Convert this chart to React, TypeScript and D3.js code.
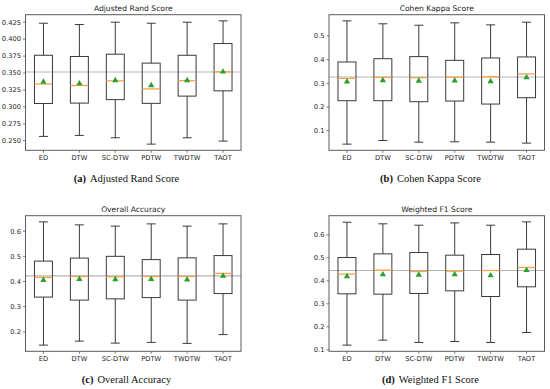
import React from 'react';
import * as d3 from 'd3';

const categories = ['ED', 'DTW', 'SC-DTW', 'PDTW', 'TWDTW', 'TAOT'];

// (a) Adjusted Rand Score
const arsLow = [0.2564, 0.2579, 0.2544, 0.245, 0.2544, 0.2495];
const arsQ1 = [0.305, 0.3056, 0.3107, 0.3052, 0.3159, 0.3237];
const arsMedian = [0.3338, 0.3316, 0.3385, 0.3265, 0.3388, 0.3518];
const arsQ3 = [0.3762, 0.3744, 0.3778, 0.3646, 0.3762, 0.3935];
const arsHigh = [0.4235, 0.4216, 0.425, 0.4235, 0.425, 0.427];
const arsMean = [0.337, 0.3345, 0.339, 0.3318, 0.3392, 0.3518];
const arsTicks = [0.25, 0.275, 0.3, 0.325, 0.35, 0.375, 0.4, 0.425];

// (b) Cohen Kappa Score
const ckLow = [0.0437, 0.059, 0.052, 0.0535, 0.052, 0.048];
const ckQ1 = [0.2268, 0.2268, 0.2225, 0.2254, 0.2127, 0.2394];
const ckMedian = [0.321, 0.325, 0.324, 0.3254, 0.328, 0.3394];
const ckQ3 = [0.39, 0.404, 0.4127, 0.397, 0.407, 0.4113];
const ckHigh = [0.5634, 0.551, 0.545, 0.555, 0.5465, 0.5577];
const ckMean = [0.307, 0.3127, 0.31, 0.3113, 0.3085, 0.3254];
const ckTicks = [0.1, 0.2, 0.3, 0.4, 0.5];

// (c) Overall Accuracy
const oaLow = [0.147, 0.163, 0.155, 0.158, 0.154, 0.189];
const oaQ1 = [0.338, 0.326, 0.331, 0.336, 0.326, 0.352];
const oaMedian = [0.416, 0.42, 0.4185, 0.42, 0.42, 0.432];
const oaQ3 = [0.481, 0.493, 0.5, 0.487, 0.494, 0.503];
const oaHigh = [0.637, 0.625, 0.62, 0.629, 0.62, 0.629];
const oaMean = [0.405, 0.409, 0.408, 0.409, 0.407, 0.4225];
const oaTicks = [0.2, 0.3, 0.4, 0.5, 0.6];

// (d) Weighted F1 Score
const f1Low = [0.1203, 0.142, 0.132, 0.1362, 0.132, 0.1754];
const f1Q1 = [0.3435, 0.342, 0.345, 0.3565, 0.3319, 0.374];
const f1Median = [0.429, 0.4464, 0.4406, 0.442, 0.445, 0.458];
const f1Q3 = [0.5014, 0.5174, 0.523, 0.5116, 0.5145, 0.5377];
const f1High = [0.655, 0.648, 0.642, 0.652, 0.642, 0.6565];
const f1Mean = [0.419, 0.4275, 0.426, 0.4275, 0.423, 0.4464];
const f1Ticks = [0.1, 0.2, 0.3, 0.4, 0.5, 0.6];

const titles = ['Adjusted Rand Score', 'Cohen Kappa Score', 'Overall Accuracy', 'Weighted F1 Score'];
const captionLetters = ['(a)', '(b)', '(c)', '(d)'];
const refValues = [0.3515, 0.3265, 0.4225, 0.445];

const panels = [
  { low: arsLow, q1: arsQ1, med: arsMedian, q3: arsQ3, high: arsHigh, mean: arsMean, ticks: arsTicks, fmt: '.3f' },
  { low: ckLow, q1: ckQ1, med: ckMedian, q3: ckQ3, high: ckHigh, mean: ckMean, ticks: ckTicks, fmt: '.1f' },
  { low: oaLow, q1: oaQ1, med: oaMedian, q3: oaQ3, high: oaHigh, mean: oaMean, ticks: oaTicks, fmt: '.1f' },
  { low: f1Low, q1: f1Q1, med: f1Median, q3: f1Q3, high: f1High, mean: f1Mean, ticks: f1Ticks, fmt: '.1f' },
];

const FRAME_LEFT = [25.5, 329];
const FRAME_TOP = [14.7, 215.7];
const FRAME_W = 215.5;
const FRAME_H = 135.6;
const CAPTION_X = [126.5, 430.5];

const BOX = '#3a3a3a';
const MEDIAN = '#f7a24e';
const MEAN = '#2ca02c';
const REF = '#b5b5b5';
const FRAME = '#5a5a5a';
const TEXT = '#222';

function Panel({ idx }: { idx: number }) {
  const p = panels[idx];
  const col = idx % 2;
  const row = Math.floor(idx / 2);
  const left = FRAME_LEFT[col];
  const top = FRAME_TOP[row];
  const minV = d3.min(p.low) as number;
  const maxV = d3.max(p.high) as number;
  const pad = (maxV - minV) * 0.05;
  const y = d3.scaleLinear().domain([minV - pad, maxV + pad]).range([top + FRAME_H, top]);
  const x = d3.scaleBand<string>().domain(categories).range([left, left + FRAME_W]).padding(0);
  const bw = x.bandwidth() * 0.5;
  const fmt = d3.format(p.fmt);
  const tri = d3.symbol().type(d3.symbolTriangle).size(17)();
  return (
    <g>
      <text x={left + FRAME_W / 2} y={top - 3.8} textAnchor="middle" fontSize={7.6}
        fontFamily="DejaVu Sans" fill={TEXT}>{titles[idx]}</text>
      <line x1={left} x2={left + FRAME_W} y1={y(refValues[idx])} y2={y(refValues[idx])}
        stroke={REF} strokeWidth={1.1} />
      {categories.map((c, i) => {
        const cx = (x(c) as number) + x.bandwidth() / 2;
        return (
          <g key={c}>
            <line x1={cx} x2={cx} y1={y(p.high[i])} y2={y(p.q3[i])} stroke={BOX} strokeWidth={1} />
            <line x1={cx} x2={cx} y1={y(p.q1[i])} y2={y(p.low[i])} stroke={BOX} strokeWidth={1} />
            <line x1={cx - bw / 4} x2={cx + bw / 4} y1={y(p.high[i])} y2={y(p.high[i])} stroke={BOX} strokeWidth={1} />
            <line x1={cx - bw / 4} x2={cx + bw / 4} y1={y(p.low[i])} y2={y(p.low[i])} stroke={BOX} strokeWidth={1} />
            <rect x={cx - bw / 2} y={y(p.q3[i])} width={bw} height={y(p.q1[i]) - y(p.q3[i])}
              fill="none" stroke={BOX} strokeWidth={1} />
            <line x1={cx - bw / 2} x2={cx + bw / 2} y1={y(p.med[i])} y2={y(p.med[i])} stroke={MEDIAN} strokeWidth={1.3} />
            <path d={tri as string} transform={`translate(${cx},${y(p.mean[i])})`} fill={MEAN} />
            <line x1={cx} x2={cx} y1={top + FRAME_H} y2={top + FRAME_H + 2.5} stroke={FRAME} strokeWidth={0.8} />
            <text x={cx} y={top + FRAME_H + 9.6} textAnchor="middle" fontSize={6.7}
              fontFamily="DejaVu Sans" fill={TEXT}>{c}</text>
          </g>
        );
      })}
      {p.ticks.map((t) => (
        <g key={t}>
          <line x1={left - 2.5} x2={left} y1={y(t)} y2={y(t)} stroke={FRAME} strokeWidth={0.8} />
          <text x={left - 4.5} y={y(t)} dy="0.35em" textAnchor="end" fontSize={6.7}
            fontFamily="DejaVu Sans" fill={TEXT}>{fmt(t)}</text>
        </g>
      ))}
      <rect x={left} y={top} width={FRAME_W} height={FRAME_H} fill="none" stroke={FRAME} strokeWidth={1} />
      <text x={CAPTION_X[col]} y={top + FRAME_H + 32} textAnchor="middle" fontSize={10.5}
        fontFamily="Liberation Serif" fill="#111">
        <tspan fontWeight="bold">{captionLetters[idx]}</tspan>
        <tspan dx={4}>{titles[idx]}</tspan>
      </text>
    </g>
  );
}

export default function App() {
  return (
    <svg width={550} height={389} style={{ position: 'absolute', left: 0, top: 0, background: '#fff' }}>
      <rect x={0} y={0} width={550} height={389} fill="#fff" />
      {[0, 1, 2, 3].map((i) => <Panel key={i} idx={i} />)}
    </svg>
  );
}
